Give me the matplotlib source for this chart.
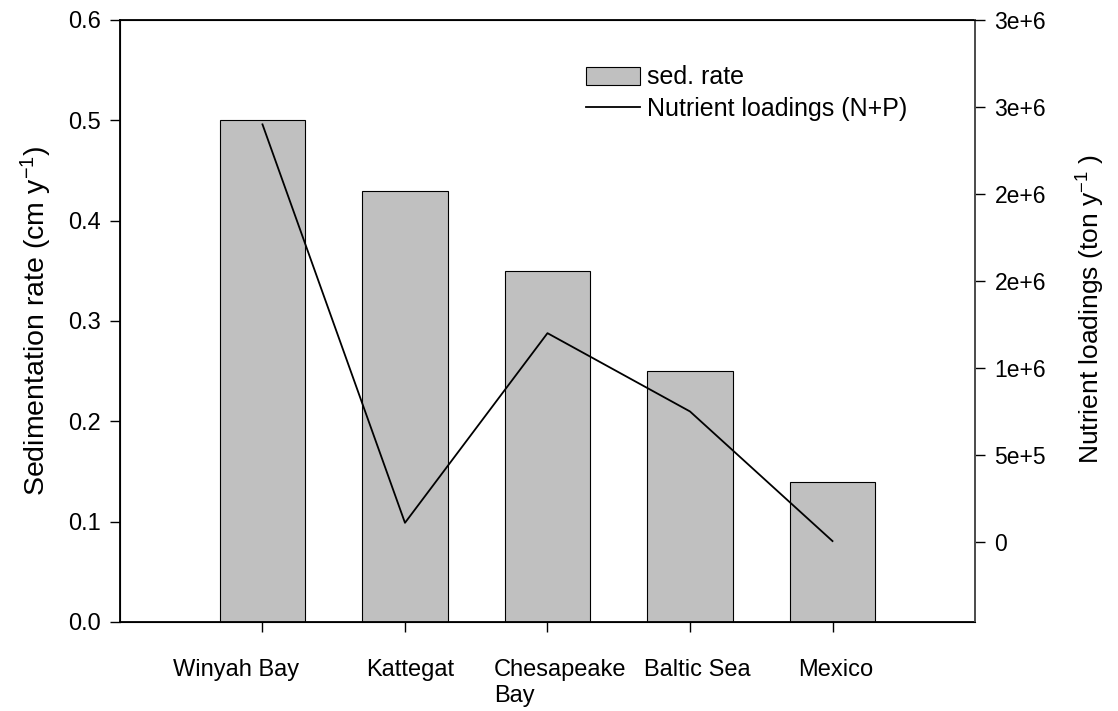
import matplotlib
matplotlib.use('Agg')
import matplotlib.pyplot as plt
import matplotlib.transforms as mtransforms
import numpy as np

plt.rcParams['font.family'] = ['Liberation Sans', 'DejaVu Sans']
plt.rcParams['mathtext.fontset'] = 'custom'
plt.rcParams['mathtext.rm'] = 'Liberation Sans'
plt.rcParams['mathtext.it'] = 'Liberation Sans'

sites = ['Winyah Bay', 'Kattegat', 'Chesapeake\nBay', 'Baltic Sea', 'Mexico']
sed_rate = [0.50, 0.43, 0.35, 0.25, 0.14]
nutrient_load = [2.40e6, 1.1e5, 1.20e6, 7.5e5, 5e3]

left_ticks = [0.0, 0.1, 0.2, 0.3, 0.4, 0.5, 0.6]
right_ticks = [0, 5e5, 1e6, 1.5e6, 2e6, 2.5e6, 3e6]
right_labels = ['0', '5e+5', '1e+6', '2e+6', '2e+6', '3e+6', '3e+6']

fig = plt.figure(figsize=(11.18, 7.11), dpi=100)
ax = fig.add_axes([0.1073, 0.1252, 0.7648, 0.8467])
x = np.arange(len(sites))

bars = ax.bar(x, sed_rate, width=0.6, color='#c0c0c0', edgecolor='black',
              linewidth=0.8, label='sed. rate')
ax.set_xlim(-1, 5)
ax.set_ylim(0, 0.6)
ax.set_yticks(left_ticks)
ax.set_yticklabels(['%.1f' % v for v in left_ticks])
ax.set_xticks(x)
ax.set_xticklabels(sites, multialignment='left')
ax.tick_params(axis='y', direction='out', length=7, width=1, labelsize=17, pad=7)
ax.tick_params(axis='x', direction='out', length=7, width=1, labelsize=17, pad=20)
ax.set_ylabel(r'Sedimentation rate (cm y$^{-1}$)', fontsize=20.5, labelpad=10)
for s in ax.spines.values():
    s.set_linewidth(1.3)

# category labels sit slightly off their ticks (points)
shifts = [-19, 4, 9, 5, 2]
for lab, dx in zip(ax.get_xticklabels(), shifts):
    off = mtransforms.ScaledTranslation(dx / 72, 0, fig.dpi_scale_trans)
    lab.set_transform(lab.get_transform() + off)

ax2 = ax.twinx()
line, = ax2.plot(x, nutrient_load, color='black', linewidth=1.3,
                 label='Nutrient loadings (N+P)')
ax2.set_ylim(-4.6e5, 3e6)
ax2.set_yticks(right_ticks)
ax2.set_yticklabels(right_labels)
ax2.tick_params(axis='y', direction='out', length=7, width=1, labelsize=16.5, pad=7)
ax2.spines['right'].set_color('#555555')
ax2.spines['right'].set_linewidth(1.3)
ax2.set_ylabel(r'Nutrient loadings (ton y$^{-1}$ )', fontsize=19)
ax2.yaxis.set_label_coords(1.117, 0.52)

ax.legend([bars, line], ['sed. rate', 'Nutrient loadings (N+P)'],
          loc='upper left', bbox_to_anchor=(0.519, 0.962), frameon=False,
          fontsize=18, handlelength=2.15, handleheight=0.72,
          labelspacing=0.3, handletextpad=0.3)

fig.savefig('out.png', dpi=100)
